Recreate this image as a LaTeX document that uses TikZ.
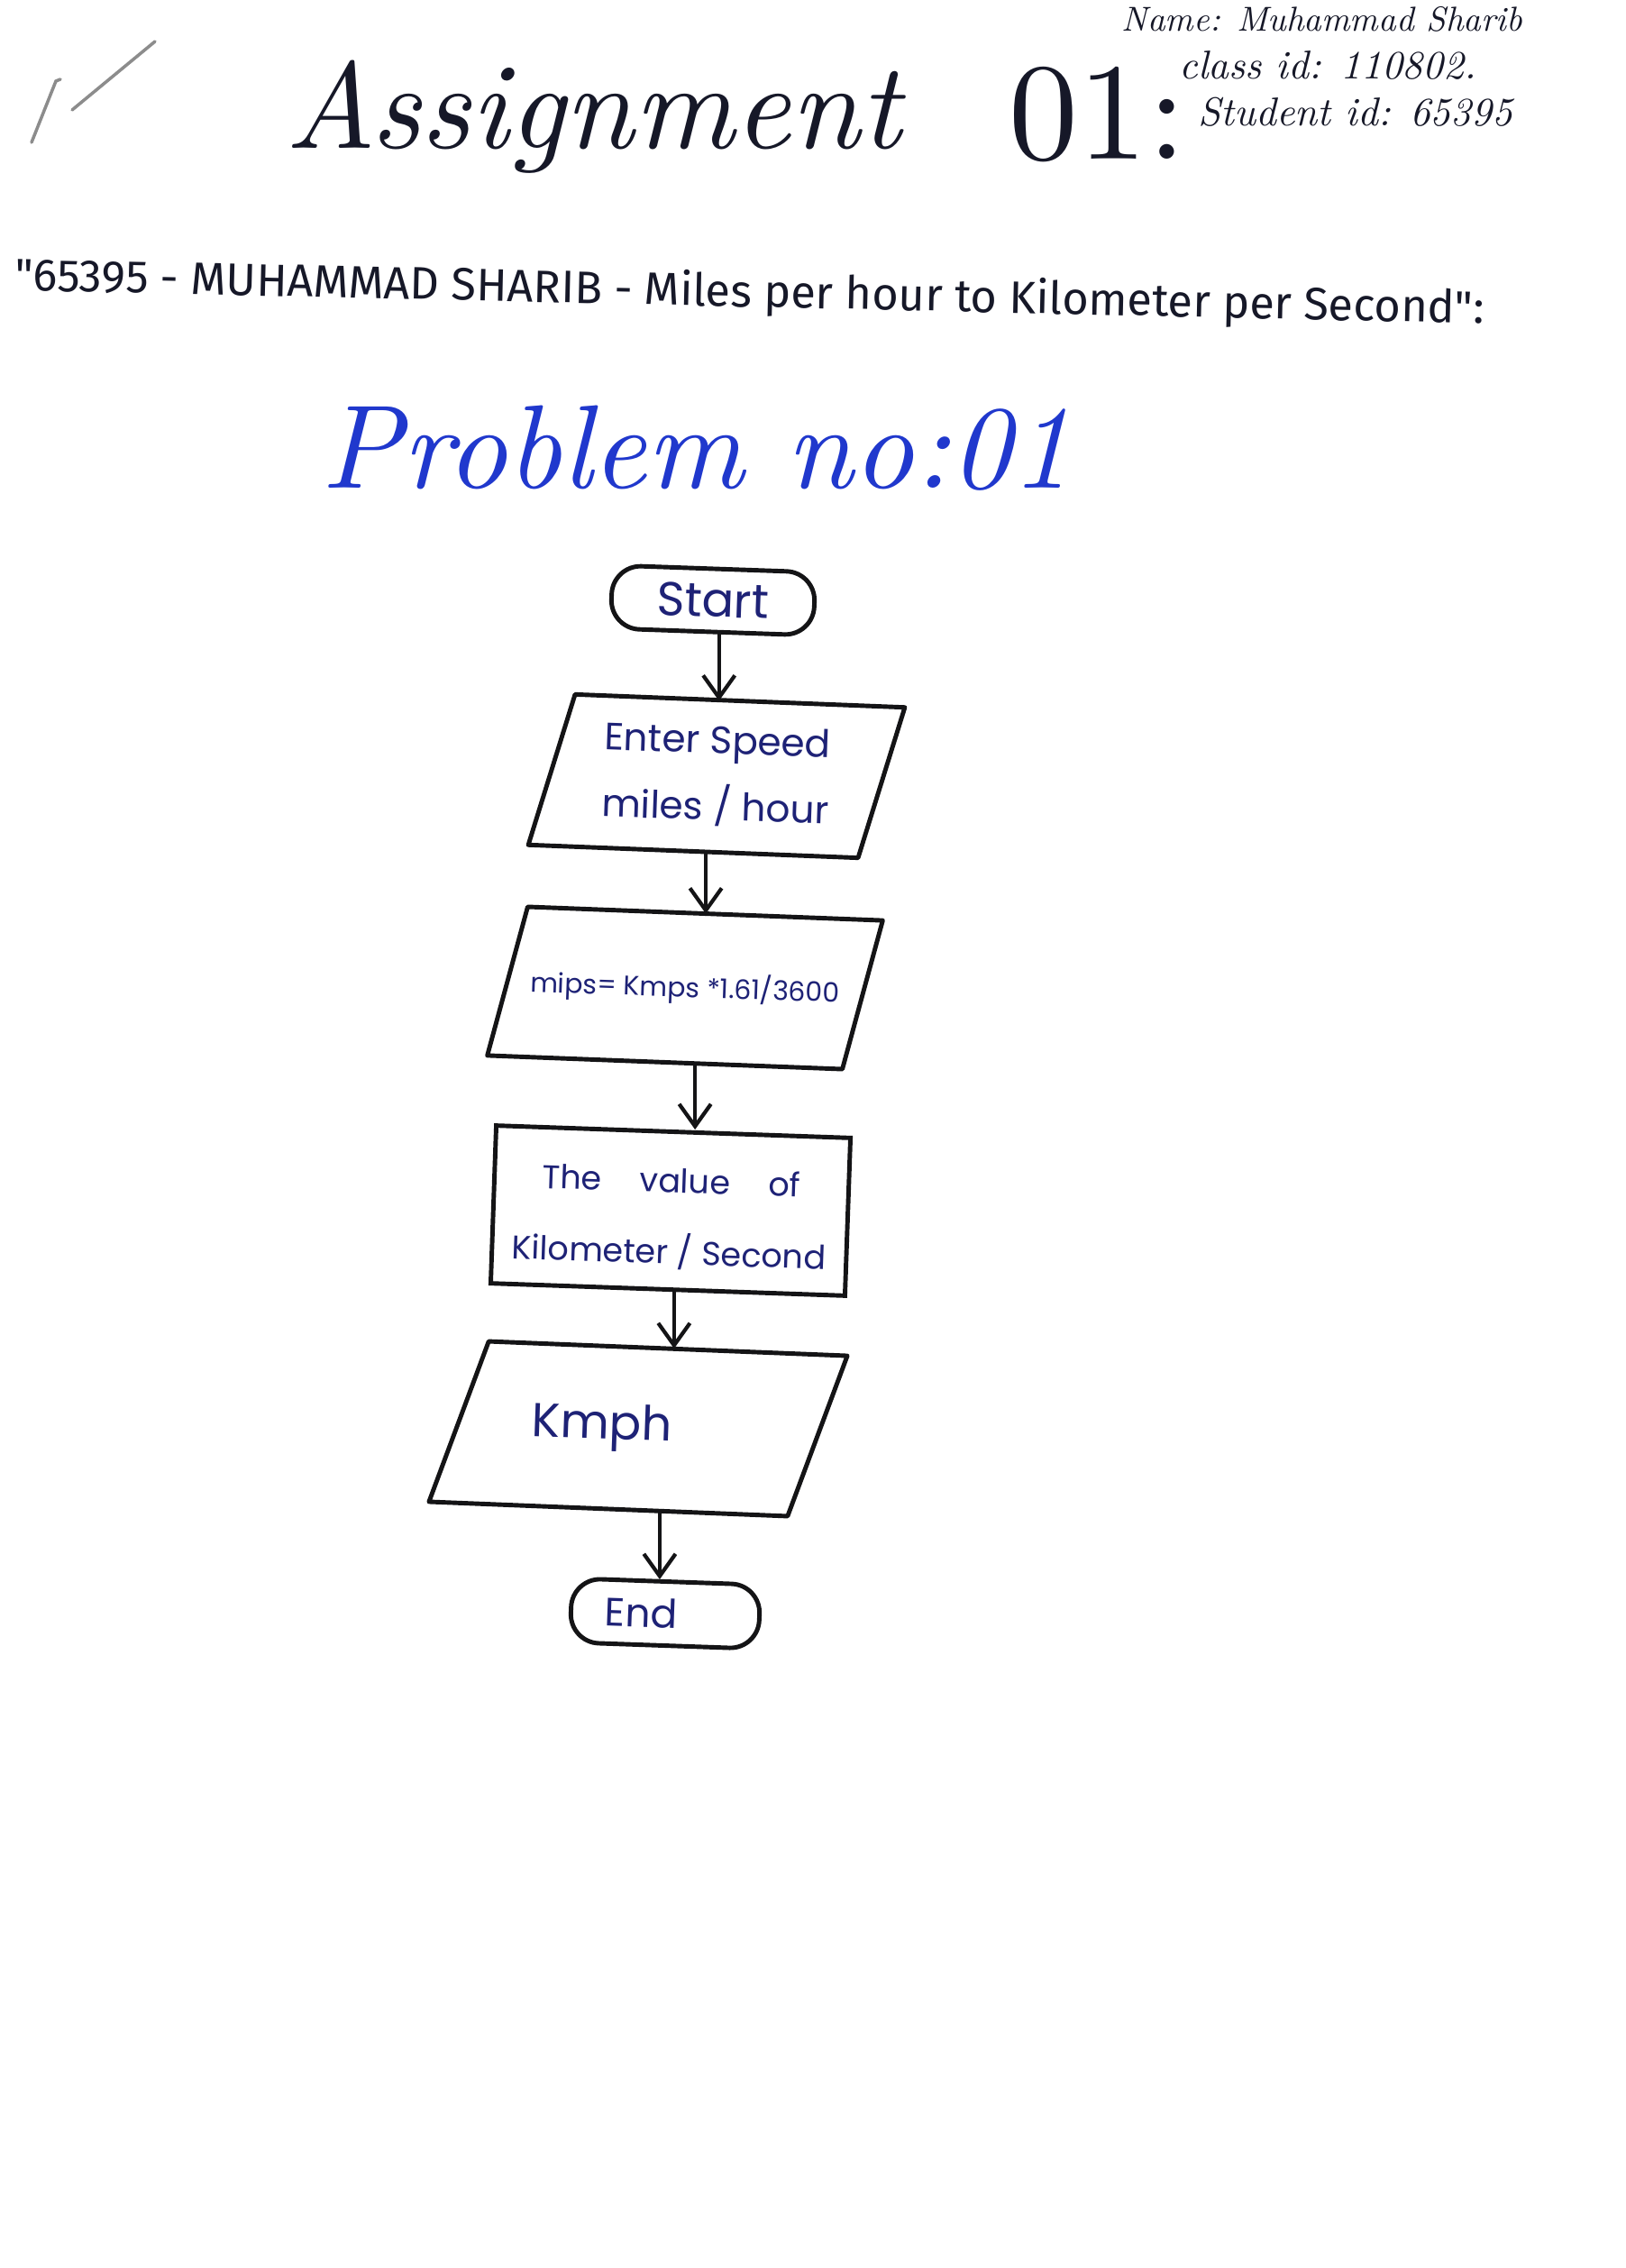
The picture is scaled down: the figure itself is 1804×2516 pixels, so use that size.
\documentclass[tikz,border=0pt]{standalone}
\usepackage{fontspec}
\usepackage{graphicx}
\usetikzlibrary{arrows.meta}
\newfontfamily\handfont{Poppins}
\newfontfamily\printfont{Fira Sans}
\definecolor{ink}{RGB}{22,24,40}
\definecolor{blueink}{RGB}{32,56,205}
\definecolor{navyink}{RGB}{30,34,118}
\definecolor{penline}{RGB}{20,20,22}
\begin{document}
\begin{tikzpicture}[x=0.01cm,y=-0.01cm,
  box/.style={draw=penline, line width=1.4pt, text=navyink, inner sep=0pt, rotate=-2, align=center},
  termbox/.style={box, rectangle, rounded corners=0.32cm},
  ioframe/.style={box, rectangle, draw=none},
  procbox/.style={box, rectangle},
  outline/.style={draw=penline, line width=1.4pt, line join=round},
  flow/.style={draw=penline, line width=1.2pt, -{Straight Barb[length=7pt,width=10pt]}},
  title/.style={inner sep=0pt, text=ink},
  tick/.style={draw=black!45, line width=1pt, line cap=round}
]
\useasboundingbox (0,0) rectangle (1804,2516);
\fill[white] (0,0) rectangle (1804,2516);

% margin ticks
\draw[tick] (35,158) -- (62,90) -- (67,88);
\draw[tick] (80,122) -- (172,46);

% heading
\node[title, anchor=base west] (asg) at (316,165) {\resizebox{6.82cm}{!}{\itshape Assignment}};
\node[title, anchor=base west] (num) at (1119,177) {\resizebox{1.96cm}{!}{01:}};
\node[title, anchor=base west] (name) at (1244,35) {\resizebox{4.44cm}{!}{\itshape Name: Muhammad Sharib}};
\node[title, anchor=base west] (cls) at (1308,88) {\resizebox{3.29cm}{!}{\itshape class id: 110802.}};
\node[title, anchor=base west] (sid) at (1329,140) {\resizebox{3.48cm}{!}{\itshape Student id: 65395}};

\node[title, anchor=base west, rotate=-1.3] (sub) at (16,322)
  {\resizebox{16.29cm}{!}{\printfont "65395 - MUHAMMAD SHARIB - Miles per hour to Kilometer per Second":}};

\node[title, text=blueink, anchor=base west] (prob) at (356,542) {\resizebox{8.32cm}{!}{\itshape Problem no:01}};

% flowchart boxes
\node[termbox, minimum width=2.25cm, minimum height=0.70cm,
      font={\handfont\fontsize{15}{18}\selectfont}] (start) at (791,666) {Start};

\node[ioframe, minimum width=4.07cm, minimum height=1.62cm,
      font={\handfont\fontsize{12}{21}\selectfont}] (inp) at (795,861) {Enter Speed\\miles / hour};
\draw[outline] ([xshift=0.46cm]inp.north west) -- (inp.north east)
  -- ([xshift=-0.46cm]inp.south east) -- (inp.south west) -- cycle;

\node[ioframe, minimum width=4.28cm, minimum height=1.60cm,
      font={\handfont\fontsize{8.5}{10}\selectfont}] (calc) at (760,1096) {mips= Kmps *1.61/3600};
\draw[outline] ([xshift=0.39cm]calc.north west) -- (calc.north east)
  -- ([xshift=-0.39cm]calc.south east) -- (calc.south west) -- cycle;

\node[procbox, minimum width=3.93cm, minimum height=1.75cm,
      font={\handfont\fontsize{10.4}{22.5}\selectfont}] (res) at (744,1343)
      {\rule{0pt}{13pt}The\hspace{12pt}value\hspace{12pt}of\\Kilometer / Second};

\node[ioframe, minimum width=4.53cm, minimum height=1.73cm,
      font={\handfont\fontsize{15}{18}\selectfont}] (kmph) at (708,1585) {Kmph\hspace*{23pt}};
\draw[outline] ([xshift=0.60cm]kmph.north west) -- (kmph.north east)
  -- ([xshift=-0.60cm]kmph.south east) -- (kmph.south west) -- cycle;

\node[termbox, minimum width=2.09cm, minimum height=0.71cm,
      font={\handfont\fontsize{12.5}{15}\selectfont}] (stop) at (738,1790) {End\hspace*{15pt}};

% connectors, each dropping straight down into the next box
\draw[flow] ([xshift=0.08cm]start.south) -- ([xshift=0.08cm]start.south |- inp.north);
\draw[flow] ([xshift=-0.09cm]inp.south) -- ([xshift=-0.09cm]inp.south |- calc.north);
\draw[flow] ([xshift=0.14cm]calc.south) -- ([xshift=0.14cm]calc.south |- res.north);
\draw[flow] ([xshift=0.07cm]res.south) -- ([xshift=0.07cm]res.south |- kmph.north);
\draw[flow] ([xshift=0.27cm]kmph.south) -- ([xshift=0.27cm]kmph.south |- stop.north);
\end{tikzpicture}
\end{document}
